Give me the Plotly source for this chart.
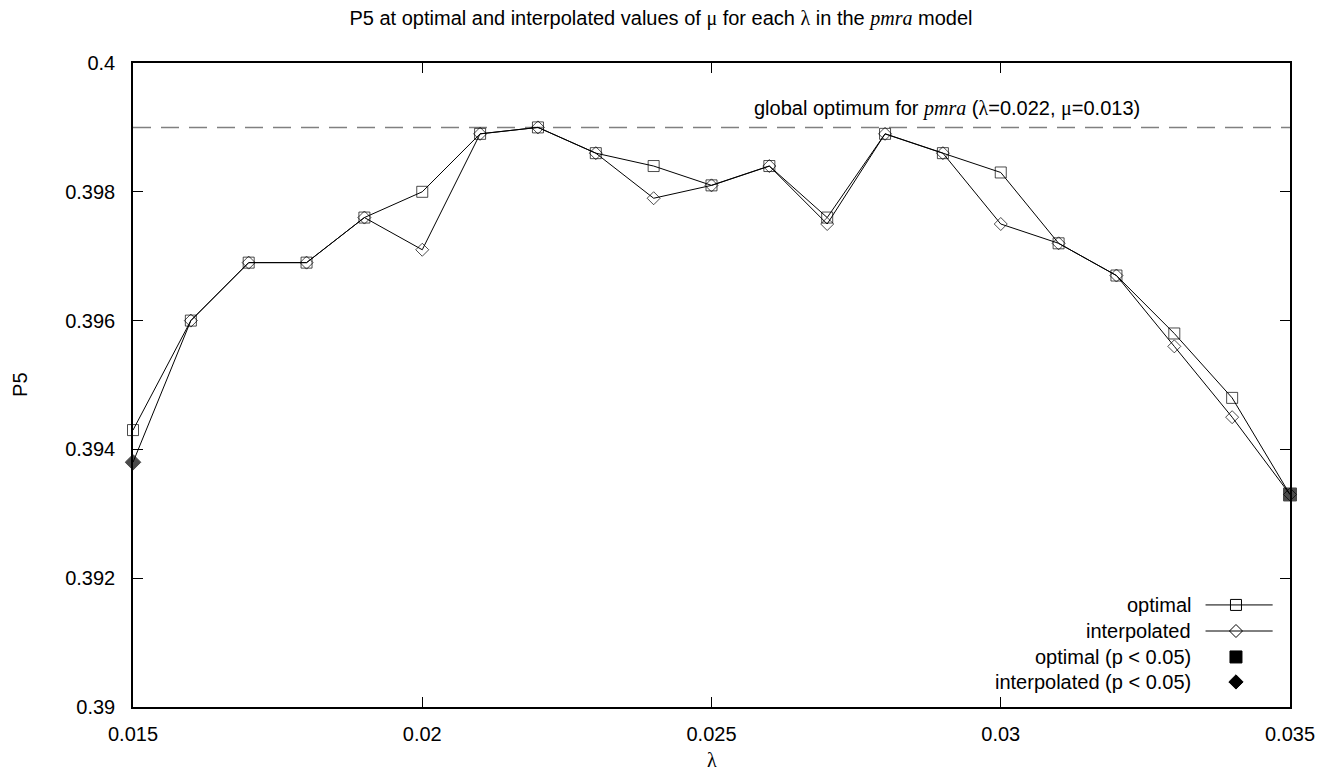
import plotly.graph_objects as go

# ---- data ----
lam = [0.015, 0.016, 0.017, 0.018, 0.019, 0.020, 0.021, 0.022, 0.023, 0.024, 0.025,
       0.026, 0.027, 0.028, 0.029, 0.030, 0.031, 0.032, 0.033, 0.034, 0.035]
p5_optimal = [0.3943, 0.3960, 0.3969, 0.3969, 0.3976, 0.3980, 0.3989, 0.3990, 0.3986, 0.3984, 0.3981,
              0.3984, 0.3976, 0.3989, 0.3986, 0.3983, 0.3972, 0.3967, 0.3958, 0.3948, 0.3933]
p5_interp = [0.3938, 0.3960, 0.3969, 0.3969, 0.3976, 0.3971, 0.3989, 0.3990, 0.3986, 0.3979, 0.3981,
             0.3984, 0.3975, 0.3989, 0.3986, 0.3975, 0.3972, 0.3967, 0.3956, 0.3945, 0.3933]
sig_optimal = [False] * 20 + [True]
sig_interp = [True] + [False] * 20
global_opt = 0.399
x_ticks = [0.015, 0.02, 0.025, 0.03, 0.035]
x_ticklabels = ["0.015", "0.02", "0.025", "0.03", "0.035"]
y_ticks = [0.39, 0.392, 0.394, 0.396, 0.398, 0.4]
y_ticklabels = ["0.39", "0.392", "0.394", "0.396", "0.398", "0.4"]
legend_labels = ["optimal", "interpolated", "optimal (p < 0.05)", "interpolated (p < 0.05)"]

FONT = "Liberation Sans, Arial, sans-serif"
SERIF = "font-family:Liberation Serif"
FS = 20

fig = go.Figure()

# dashed global optimum line
fig.add_trace(go.Scatter(x=[lam[0], lam[-1]], y=[global_opt, global_opt], mode="lines",
                         line=dict(color="#808080", width=1.5, dash="18px,10px"),
                         showlegend=False, hoverinfo="skip"))

# interpolated (drawn first)
fig.add_trace(go.Scatter(
    x=lam, y=p5_interp, mode="lines+markers", cliponaxis=False,
    line=dict(color="black", width=1),
    marker=dict(symbol=["diamond" if s else "diamond-open" for s in sig_interp],
                size=[12 if s else 10 for s in sig_interp],
                color="black", line=dict(color="black", width=1)),
    showlegend=False))

# optimal
fig.add_trace(go.Scatter(
    x=lam, y=p5_optimal, mode="lines+markers", cliponaxis=False,
    line=dict(color="black", width=1),
    marker=dict(symbol=["square" if s else "square-open" for s in sig_optimal],
                size=[13 if s else 11 for s in sig_optimal],
                color="black", line=dict(color="black", width=1)),
    showlegend=False))

# ---- custom gnuplot-style legend (overlay axes in 0..1) ----
leg_y = [0.1585, 0.118, 0.0777, 0.0389]
leg_text_x = 0.916
leg_line = [0.927, 0.985]
leg_mark_x = 0.9533
leg_symbols = ["square-open", "diamond-open", "square", "diamond"]
leg_sizes = [11, 10, 12, 11]
for i in range(4):
    if i < 2:
        fig.add_trace(go.Scatter(x=leg_line, y=[leg_y[i]] * 2, mode="lines",
                                 line=dict(color="black", width=1), xaxis="x2", yaxis="y2",
                                 showlegend=False, hoverinfo="skip"))
    fig.add_trace(go.Scatter(x=[leg_mark_x], y=[leg_y[i]], mode="markers",
                             marker=dict(symbol=leg_symbols[i], size=leg_sizes[i], color="black",
                                         line=dict(color="black", width=1)),
                             xaxis="x2", yaxis="y2", showlegend=False, hoverinfo="skip"))
    fig.add_annotation(x=leg_text_x, y=leg_y[i], xref="paper", yref="paper",
                       text=legend_labels[i], showarrow=False, xanchor="right", yanchor="middle",
                       font=dict(family=FONT, size=FS, color="black"))

# global optimum label
fig.add_annotation(x=0.872, y=global_opt, xref="paper", yref="y",
                   text="global optimum for <span style='" + SERIF + ";font-style:italic'>pmra</span> "
                        "(<span style='" + SERIF + "'>λ</span>=0.022, <span style='" + SERIF + "'>μ</span>=0.013)",
                   showarrow=False, xanchor="right", yanchor="bottom", yshift=5,
                   font=dict(family=FONT, size=FS, color="black"))

# axis titles
fig.add_annotation(x=0.5, y=-0.083, xref="paper", yref="paper",
                   text="<span style='" + SERIF + "'>λ</span>", showarrow=False,
                   xanchor="center", yanchor="middle", font=dict(family=FONT, size=FS, color="black"))
fig.add_annotation(x=-0.0977, y=0.5, xref="paper", yref="paper", text="P5", textangle=-90,
                   showarrow=False, xanchor="center", yanchor="middle",
                   font=dict(family=FONT, size=FS, color="black"))

axis_common = dict(showline=True, linecolor="black", linewidth=1.5, mirror="ticks",
                   ticks="inside", ticklen=10, tickwidth=1, tickcolor="black",
                   showgrid=False, zeroline=False, automargin=False,
                   tickfont=dict(family=FONT, size=FS, color="black"))

fig.update_layout(
    width=1322, height=776,
    margin=dict(l=133, r=32, t=63, b=69),
    paper_bgcolor="white", plot_bgcolor="white",
    title=dict(text="P5 at optimal and interpolated values of <span style='" + SERIF + "'>μ</span> for each "
                    "<span style='" + SERIF + "'>λ</span> in the <span style='" + SERIF + ";font-style:italic'>pmra</span> model",
               x=0.5, xanchor="center", y=0.977, yanchor="middle",
               font=dict(family=FONT, size=FS, color="black")),
    xaxis=dict(range=[0.015, 0.035], tickvals=x_ticks, ticktext=x_ticklabels,
               ticklabelstandoff=8, **axis_common),
    yaxis=dict(range=[0.39, 0.4], tickvals=y_ticks, ticktext=y_ticklabels,
               ticklabelstandoff=12, **axis_common),
    xaxis2=dict(range=[0, 1], overlaying="x", visible=False, fixedrange=True),
    yaxis2=dict(range=[0, 1], overlaying="y", visible=False, fixedrange=True),
    showlegend=False,
)

fig.write_html("out.html")
